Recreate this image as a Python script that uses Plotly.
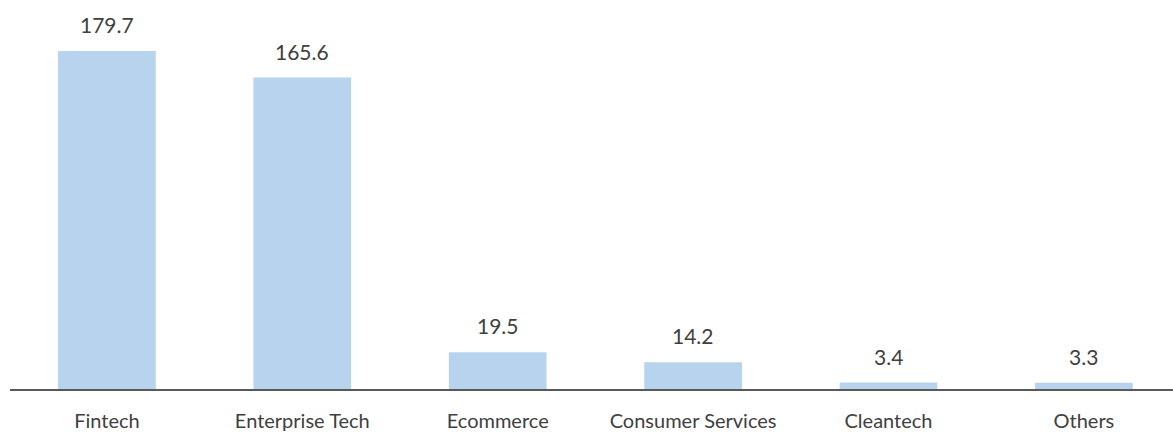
import plotly.graph_objects as go

categories = ["Fintech", "Enterprise Tech", "Ecommerce", "Consumer Services", "Cleantech", "Others"]
values = [179.7, 165.6, 19.5, 14.2, 3.4, 3.3]
value_labels = ["179.7", "165.6", "19.5", "14.2", "3.4", "3.3"]

FONT = "Lato"
TEXT_COLOR = "#404040"

fig = go.Figure()
fig.add_trace(go.Bar(
    x=categories, y=values,
    marker=dict(color="#B8D3EE", line=dict(width=0)),
    width=0.5,
    hoverinfo="skip",
))

for c, v, t in zip(categories, values, value_labels):
    fig.add_annotation(x=c, y=v, text=t, showarrow=False, yanchor="bottom",
                       yshift=12, font=dict(family=FONT, size=21, color=TEXT_COLOR))

fig.update_layout(
    width=1173, height=432,
    margin=dict(l=10, r=0, t=0, b=43, autoexpand=False),
    paper_bgcolor="white", plot_bgcolor="white",
    showlegend=False,
    font=dict(family=FONT, size=20, color=TEXT_COLOR),
    xaxis=dict(
        type="category", range=[-0.496, 5.456],
        showline=True, linecolor="#595959", linewidth=2,
        showgrid=False, zeroline=False, ticks="",
        ticklabelstandoff=13, automargin=False,
        tickfont=dict(family=FONT, size=20, color=TEXT_COLOR),
        fixedrange=True,
    ),
    yaxis=dict(range=[0, 206.8], visible=False, fixedrange=True, automargin=False),
)

fig.write_html("out.html", config={"displayModeBar": False, "staticPlot": True})

with open("out.html", "r", encoding="utf-8") as f:
    html = f.read()
html = html.replace("<head>", "<head><style>html,body{margin:0;padding:0;overflow:hidden;}</style>", 1)
with open("out.html", "w", encoding="utf-8") as f:
    f.write(html)
